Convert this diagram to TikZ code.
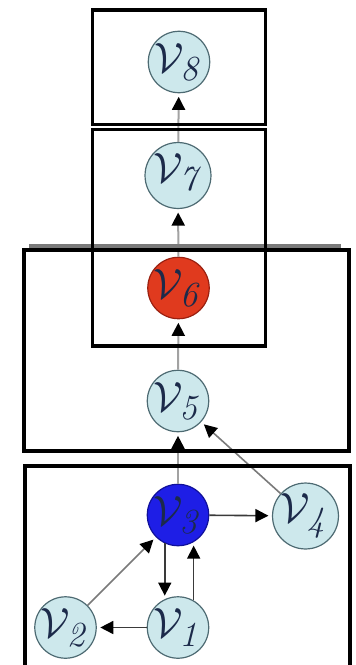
\documentclass[tikz,border=0pt]{standalone}
\usepackage{graphicx}
\usetikzlibrary{arrows.meta}

\definecolor{nodefill}{HTML}{CDE8EC}
\definecolor{nodeedge}{HTML}{4D6A72}
\definecolor{labelink}{HTML}{1C2A4A}
\definecolor{hotfill}{HTML}{E03A1E}
\definecolor{hotedge}{HTML}{9A2010}
\definecolor{seedfill}{HTML}{1E1EE6}
\definecolor{seededge}{HTML}{10109A}
\definecolor{softline}{HTML}{A2A2A2}
\definecolor{midline}{HTML}{7A7A7A}
\definecolor{darkline}{HTML}{3A3A3A}

\tikzset{
  vertex/.style={circle, minimum size=57pt, inner sep=0pt, draw=nodeedge,
    line width=1.2pt, fill=nodefill, text=labelink, font=\Huge},
  hotvertex/.style={vertex, fill=hotfill, draw=hotedge},
  seedvertex/.style={vertex, fill=seedfill, draw=seededge},
  tip/.style={-{Triangle[length=13pt,width=13pt,color=black,fill=black]},
    shorten >=3.5pt},
  softedge/.style={tip, draw=softline, line width=2pt},
  midedge/.style={tip, draw=midline, line width=1.6pt},
  hardedge/.style={tip, draw=darkline, line width=1.6pt},
  frame/.style={draw=black, line width=3.6pt},
}

\newcommand{\vlabel}[1]{\scalebox{1.7}{$\mathcal{V}_{\mathit{#1}}$}}

\begin{document}
\begin{tikzpicture}[x=1pt, y=-1pt]
  \useasboundingbox (0,0) rectangle (356,665);
  \fill[white] (0,0) rectangle (356,665);

  % vertices
  \node[vertex]     (v8) at (179,62)    {\vlabel{8}};
  \node[vertex]     (v7) at (178,175.5) {\vlabel{7}};
  \node[hotvertex]  (v6) at (178.5,288) {\vlabel{6}};
  \node[vertex]     (v5) at (178,401)   {\vlabel{5}};
  \node[seedvertex] (v3) at (178,515)   {\vlabel{3}};
  \node[vertex]     (v4) at (305.5,516) {\vlabel{4}};
  \node[vertex]     (v1) at (178,627.5) {\vlabel{1}};
  \node[vertex]     (v2) at (65.5,627.5){\vlabel{2}};

  % edges
  \draw[softedge] (v7) -- (v8);
  \draw[softedge] (v6) -- (v7);
  \draw[softedge] (v5) -- (v6);
  \draw[softedge] (v3) -- (v5);
  \draw[midedge]  (v4) -- (v5);
  \draw[midedge]  (v2) -- (v3);
  \draw[hardedge] (v3) -- (v4);
  \draw[hardedge] (v1) -- (v2);
  \draw[hardedge] (v3.245) -- (v1.115);
  \draw[hardedge] (v1.60) -- (v3.300);

  % grouping frames
  \draw[line width=4pt, draw=midline] (29,245.5) -- (341,245.5);
  \draw[frame] (92.5,10) rectangle (265.5,124.5);
  \draw[frame] (92.5,129.5) rectangle (265.5,346);
  \draw[frame] (24,250) rectangle (349,451);
  \begin{scope}
    \clip (0,0) rectangle (356,665);
    \draw[frame] (25,466) rectangle (350,700);
  \end{scope}
\end{tikzpicture}
\end{document}
